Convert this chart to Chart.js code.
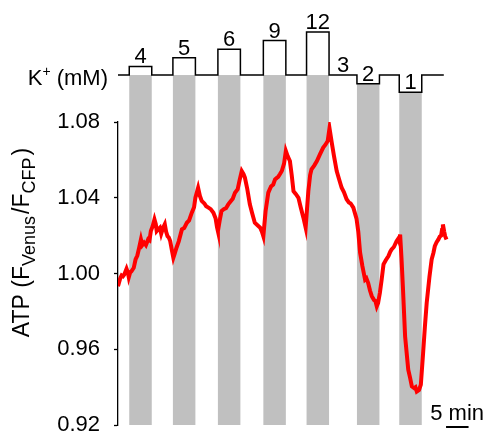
<!DOCTYPE html>
<html>
<head>
<meta charset="utf-8">
<script src="https://cdn.jsdelivr.net/npm/chart.js@4.4.1/dist/chart.umd.min.js"></script>
<style>
  html, body { margin: 0; padding: 0; background: #fff; }
  #wrap { width: 485px; height: 438px; }
</style>
</head>
<body>
<div id="wrap"><canvas id="myChart" width="485" height="438"></canvas></div>
<script>
// time (min) and ATP ratio
var traceT = [0, 0.5, 0.8, 1.1, 1.4, 1.9, 2.2, 2.4, 2.7, 3.0, 3.5, 3.9, 4.3, 4.7, 5.1, 5.4, 5.8, 6.2, 6.7, 7.0, 7.3, 7.7, 8.1, 8.4,
  8.6, 9.0, 9.3, 9.6, 9.8, 10.1, 10.4, 10.7, 11.0, 11.3, 11.6, 12.0, 12.3, 12.6, 13.0, 13.5, 14.2, 14.7, 15.3, 15.8, 16.4, 16.9,
  17.2, 17.5, 17.8, 18.2, 18.6, 19.2, 19.6, 20.1, 20.6, 21.2, 21.7, 22.0, 22.2, 22.6, 23.0, 23.5, 24.0, 24.5, 25.0, 25.5, 26.0,
  26.6, 27.0, 27.5, 27.9, 28.2, 28.7, 29.3, 29.8, 30.4, 31.0, 31.6, 32.0, 32.3, 32.8, 33.4, 34.0, 34.5, 34.9, 35.3, 35.6, 36.0,
  36.4, 36.9, 37.3, 37.7, 38.2, 38.6, 39.0, 39.5, 40.1, 40.6, 41.2, 41.7, 42.0, 42.3, 42.7, 43.0, 43.6, 44.2, 44.9, 45.6, 46.1,
  46.6, 47.0, 47.5, 48.0, 48.6, 49.1, 49.7, 50.2, 50.8, 51.3, 51.7, 52.3, 53.0, 53.4, 53.8, 54.3, 54.9, 55.2, 55.6, 56.0, 56.4,
  56.9, 57.2, 57.5, 57.8, 58.2, 58.6, 59.0, 59.5, 60.1, 60.5, 60.8, 61.3, 61.9, 62.3, 62.5, 62.7, 63.0, 63.3, 63.8, 64.5, 64.9,
  65.3, 65.8, 66.1, 66.4, 66.9, 67.3, 67.8, 68.2, 68.6, 69.2, 69.7, 70.1, 70.4, 70.8, 71.2, 71.5, 71.8, 72.0, 72.2, 72.5, 72.7, 73.0];
var traceV = [0.9933, 0.9975, 0.9990, 0.9985, 0.9995, 1.0025, 1.0005, 0.9980, 1.0005, 1.0012, 1.0030, 1.0074, 1.0095, 1.0136, 1.0180, 1.0150, 1.0163, 1.0150, 1.0180, 1.0175, 1.0224, 1.0250, 1.0286, 1.0260,
  1.0224, 1.0235, 1.0242, 1.0210, 1.0225, 1.0245, 1.0260, 1.0220, 1.0197, 1.0190, 1.0171, 1.0120, 1.0083, 1.0105, 1.0136, 1.0170, 1.0233, 1.0240, 1.0268, 1.0280, 1.0321, 1.0350,
  1.0400, 1.0427, 1.0453, 1.0410, 1.0383, 1.0370, 1.0355, 1.0348, 1.0340, 1.0321, 1.0290, 1.0245, 1.0224, 1.0280, 1.0330, 1.0340, 1.0345, 1.0365, 1.0380, 1.0395, 1.0427,
  1.0445, 1.0490, 1.0541, 1.0525, 1.0506, 1.0450, 1.0365, 1.0320, 1.0268, 1.0255, 1.0242, 1.0220, 1.0197, 1.0330, 1.0427, 1.0460, 1.0470, 1.0497, 1.0505, 1.0510, 1.0525,
  1.0541, 1.0580, 1.0647, 1.0620, 1.0594, 1.0520, 1.0435, 1.0420, 1.0400, 1.0350, 1.0295, 1.0242, 1.0340, 1.0435, 1.0520, 1.0550, 1.0570, 1.0594, 1.0630, 1.0665, 1.0680,
  1.0700, 1.0767, 1.0691, 1.0620, 1.0541, 1.0500, 1.0453, 1.0430, 1.0392, 1.0375, 1.0370, 1.0348, 1.0290, 1.0220, 1.0110, 1.0040, 0.9968, 0.9975, 0.9950, 0.9910, 0.9880,
  0.9860, 0.9855, 0.9827, 0.9845, 0.9898, 0.9970, 1.0048, 1.0070, 1.0092, 1.0115, 1.0127, 1.0140, 1.0171, 1.0185, 1.0170, 1.0206, 1.0080, 0.9933, 0.9668, 0.9492, 0.9450,
  0.9404, 0.9395, 0.9400, 0.9377, 0.9385, 0.9413, 0.9580, 0.9720, 0.9845, 0.9980, 1.0074, 1.0110, 1.0144, 1.0165, 1.0180, 1.0195, 1.0200, 1.0230, 1.0259, 1.0220, 1.0197, 1.0180];

// K+ applications
var kLabels = ['4', '5', '6', '9', '12', '2', '1'];
var kLevel = [1, 2, 3, 4, 5, -1, -2];
var kStart = [2.5, 12.2, 22.2, 32.3, 41.9, 53.1, 62.5];
var kDur = 5;
var kBaseLabel = '3';
var kEnd = 72.4;

var yTicks = [0.92, 0.96, 1.00, 1.04, 1.08];

var FONT = '"Liberation Sans", Arial, sans-serif';
var K_BASE = 1.1048, K_STEP = 0.00455;
function kY(l) { return K_BASE + l * K_STEP; }

var kTrace = [{ x: 0, y: kY(0) }];
kStart.forEach(function (s, i) {
    kTrace.push({ x: s, y: kY(kLevel[i]) });
    kTrace.push({ x: s + kDur, y: kY(0) });
});
kTrace.push({ x: kEnd, y: kY(0) });

var atp = traceT.map(function (t, i) { return { x: t, y: traceV[i] }; });

var bands = {
    id: 'bands',
    beforeDatasetsDraw: function (chart) {
        var ctx = chart.ctx, xs = chart.scales.x, ys = chart.scales.y;
        ctx.save();
        ctx.fillStyle = '#c0c0c0';
        kStart.forEach(function (s, i) {
            var x0 = xs.getPixelForValue(s), x1 = xs.getPixelForValue(s + kDur);
            var top = ys.getPixelForValue(kY(Math.min(kLevel[i], 0)));
            var bot = ys.getPixelForValue(yTicks[0]);
            ctx.fillRect(x0, top, x1 - x0, bot - top);
        });
        ctx.restore();
    }
};

var texts = {
    id: 'texts',
    afterDraw: function (chart) {
        var ctx = chart.ctx, xs = chart.scales.x, ys = chart.scales.y, a = chart.chartArea;
        ctx.save();
        ctx.fillStyle = '#000';
        ctx.textBaseline = 'alphabetic';
        ctx.textAlign = 'center';
        ctx.font = '22px ' + FONT;
        kStart.forEach(function (s, i) {
            var x = xs.getPixelForValue(s + kDur / 2);
            var y = ys.getPixelForValue(kY(kLevel[i])) - 3;
            ctx.fillText(kLabels[i], x, y);
        });
        var gx = (xs.getPixelForValue(kStart[4] + kDur) + xs.getPixelForValue(kStart[5])) / 2;
        ctx.fillText(kBaseLabel, gx, ys.getPixelForValue(kY(0)) - 3);

        // K+ (mM)
        var by = ys.getPixelForValue(kY(0)) + 10;
        ctx.textAlign = 'left';
        var parts = [['K', 22, 0], ['+', 14, -9], [' (mM)', 22, 0]];
        var w = 0;
        parts.forEach(function (p) { ctx.font = p[1] + 'px ' + FONT; w += ctx.measureText(p[0]).width; });
        var x = a.left - 10 - w;
        parts.forEach(function (p) {
            ctx.font = p[1] + 'px ' + FONT;
            ctx.fillText(p[0], x, by + p[2]);
            x += ctx.measureText(p[0]).width;
        });

        // y title: [text, size, baseline shift, gap after]
        var tp = [['ATP (F', 23, 0, 0], ['Venus', 18, 6, 2], ['/F', 23, 0, 0], ['CFP', 18, 6, 2], [')', 23, 0, 0]];
        w = 0;
        tp.forEach(function (p) { ctx.font = p[1] + 'px ' + FONT; w += ctx.measureText(p[0]).width + p[3]; });
        ctx.translate(29, (a.top + a.bottom) / 2 - 31);
        ctx.rotate(-Math.PI / 2);
        x = -w / 2;
        tp.forEach(function (p) {
            ctx.font = p[1] + 'px ' + FONT;
            ctx.fillText(p[0], x, p[2]);
            x += ctx.measureText(p[0]).width + p[3];
        });
        ctx.setTransform(1, 0, 0, 1, 0, 0);

        // 5 min scale bar
        var sb0 = xs.getPixelForValue(72.9), sb1 = xs.getPixelForValue(72.9 + 5);
        ctx.fillRect(sb0, a.bottom + 1, sb1 - sb0, 2);
        ctx.font = '22px ' + FONT;
        ctx.textAlign = 'right';
        ctx.fillText('5 min', 484, a.bottom - 5);
        ctx.restore();
    }
};

var ctx = document.getElementById('myChart').getContext('2d');
var myChart = new Chart(ctx, {
    type: 'line',
    data: {
        datasets: [{
            data: atp,
            borderColor: '#ff0000',
            borderWidth: 4,
            pointRadius: 0,
            tension: 0,
            order: 1
        }, {
            data: kTrace,
            borderColor: '#000',
            borderWidth: 1.5,
            pointRadius: 0,
            stepped: true,
            clip: false,
            order: 2
        }]
    },
    options: {
        responsive: false,
        animation: false,
        layout: { padding: { top: 122, bottom: 13, left: 0, right: 7 } },
        plugins: { legend: { display: false }, tooltip: { enabled: false } },
        scales: {
            x: { type: 'linear', min: 0, max: 80, display: false },
            y: {
                min: 0.92, max: 1.08,
                afterFit: function (s) { s.width = 118; s.paddingTop = 0; s.paddingBottom = 0; },
                afterBuildTicks: function (s) { s.ticks = yTicks.map(function (v) { return { value: v }; }); },
                border: { color: '#000', width: 1.3 },
                grid: { drawOnChartArea: false, tickLength: 4, tickColor: '#000', tickWidth: 1.3 },
                ticks: {
                    padding: 14,
                    color: '#000',
                    font: { family: FONT, size: 22, lineHeight: 1 },
                    callback: function (v) { return v.toFixed(2); }
                }
            }
        }
    },
    plugins: [bands, texts]
});
</script>
</body>
</html>
